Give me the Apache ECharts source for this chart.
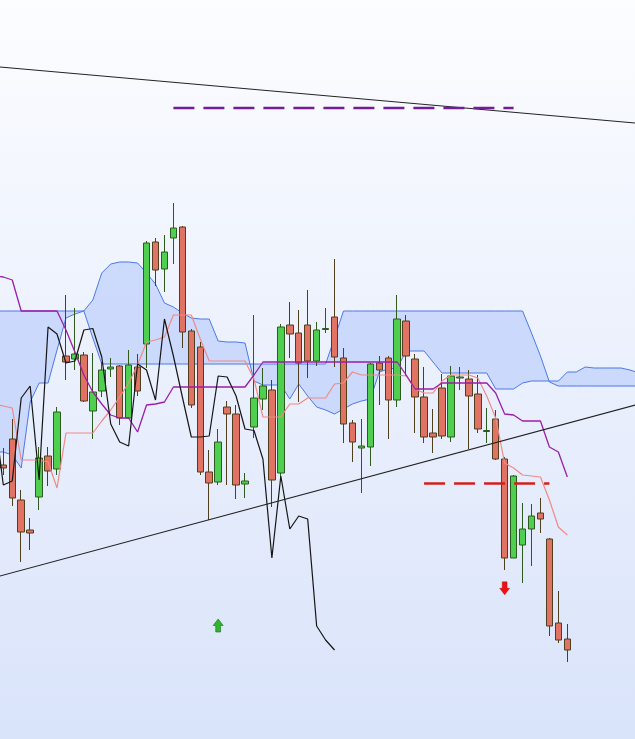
<!DOCTYPE html>
<html><head><meta charset="utf-8">
<script src="https://cdn.jsdelivr.net/npm/echarts@6/dist/echarts.min.js"></script>
<style>html,body{margin:0;padding:0;background:#fff;}#c{width:635px;height:739px;}</style>
</head><body><div id="c"></div>
<script>
// OHLC candles: [open, close, low, high], index 0..63
const candles = [
[103.5,103.2,102.5,105.2],[106.1,100.2,99.4,108.1],[100.0,96.8,93.8,101.0],[97.0,96.7,95.0,98.2],
[100.3,104.2,99.0,105.3],[104.4,102.9,101.4,105.3],[103.1,108.8,102.5,109.3],[114.4,113.8,112.0,120.5],
[114.1,114.6,113.0,119.2],[114.5,109.9,109.8,114.8],[108.9,110.8,106.1,114.7],[110.9,113.0,110.3,113.8],
[113.1,113.3,112.3,114.2],[113.4,108.2,107.5,113.5],[108.2,113.5,108.1,115.0],[113.3,110.9,110.4,114.6],
[115.6,125.7,113.2,125.9],[125.8,123.0,121.4,126.2],[123.1,124.8,120.8,126.5],[126.2,127.2,123.6,129.7],
[127.3,116.8,115.2,127.4],[116.9,109.5,109.2,117.1],[115.3,102.8,102.5,115.8],[102.8,101.7,98.0,105.0],
[101.8,105.8,101.5,107.1],[109.3,108.6,101.5,109.9],[108.6,101.5,100.1,109.5],[101.6,101.9,100.2,102.7],
[107.3,110.2,106.2,118.5],[110.1,111.4,109.0,113.2],[111.0,102.0,99.3,112.0],[102.7,117.3,102.3,117.6],
[117.5,116.6,114.2,119.8],[116.7,113.7,109.8,119.0],[117.5,113.9,112.2,121.0],[113.9,117.0,113.4,117.8],
[117.05,117.15,116.7,119.2],[118.3,114.3,113.3,124.1],[114.2,107.6,105.7,115.2],[107.7,105.8,103.8,108.0],
[105.2,105.4,100.7,108.1],[105.3,113.6,103.4,113.7],[113.7,113.0,109.5,114.4],[114.2,110.0,106.1,114.4],
[110.0,118.1,109.3,120.5],[117.9,114.4,112.4,118.5],[114.1,110.3,106.7,114.6],[110.3,106.3,105.7,113.3],
[106.7,106.3,104.7,109.1],[111.2,106.4,106.1,112.6],[106.3,112.4,105.8,113.4],[112.2,112.3,111.0,113.3],
[112.1,110.4,105.1,113.0],[110.6,107.1,106.7,112.5],[106.85,106.95,105.7,109.2],[108.1,104.1,104.0,109.0],
[104.1,94.2,93.0,104.3],[94.2,102.4,94.2,102.5],[95.5,97.1,91.7,99.7],[97.1,98.4,93.4,99.6],
[98.7,98.1,96.7,100.2],[96.1,87.4,86.4,96.2],[87.7,86.0,85.7,90.9],[86.1,85.0,83.8,87.6]
];

// Lagging span (chikou), starts at index -1
const chikouStart = -1;
const chikou = [108.6,101.5,101.9,110.2,111.4,102.0,117.3,116.6,113.7,113.9,117.0,117.15,114.3,107.6,105.8,105.4,
113.6,113.0,110.0,118.1,114.4,110.3,106.3,106.3,106.4,112.4,112.3,110.4,107.1,106.95,104.1,94.2,102.4,97.1,98.4,98.1,87.4,86.0,85.0];

// Conversion (tenkan) and base (kijun) lines, start at index -1
const lineStart = -1;
const tenkan = [109.6,109.4,109.2,104.0,104.0,104.0,103.8,101.2,106.7,106.7,106.7,106.7,107.9,109.0,110.3,111.7,113.5,
115.8,116.0,116.3,118.5,118.5,118.5,116.1,113.9,113.9,113.9,113.9,113.9,112.1,108.3,108.3,108.3,109.6,109.6,
110.2,110.2,110.2,111.6,111.7,112.8,112.5,112.5,112.5,112.5,112.5,112.4,111.1,110.7,110.7,111.9,112.5,112.5,112.5,
112.2,110.4,108.2,103.7,103.2,102.5,102.4,102.3,100.0,97.3,96.5];
const kijun = [122.4,122.3,122.0,118.9,118.9,118.9,118.9,118.9,117.0,114.8,112.5,110.8,109.6,108.5,108.2,108.2,106.8,
109.5,109.6,109.8,111.3,111.3,111.3,111.3,111.3,111.3,111.3,111.3,111.3,112.5,
113.8,113.8,113.8,113.8,113.8,113.8,113.8,113.8,113.8,113.8,113.8,113.8,113.8,113.8,113.8,113.8,
112.5,111.1,111.1,111.1,111.7,111.7,111.7,111.7,111.7,111.7,110.7,108.6,108.5,107.9,107.9,107.9,105.3,104.8,102.3];

// Leading spans (cloud), start at index -1, run to index 71
const cloudStart = -1;
const spanA = [104.8,104.8,104.5,103.2,109.8,111.7,111.7,115.0,118.2,118.6,118.9,120.0,122.7,123.6,123.8,123.8,123.7,
122.7,121.6,119.7,119.3,118.7,118.2,118.1,118.1,115.9,115.8,115.8,115.7,111.9,111.5,111.5,111.5,110.1,111.6,110.4,
109.3,109.0,108.6,109.1,109.6,109.9,110.1,112.8,113.1,113.2,114.9,114.9,114.9,113.8,112.7,112.7,112.7,112.7,112.7,
112.7,111.1,111.1,111.1,111.7,111.9,111.9,111.9,111.9,112.8,112.8,113.3,113.2,113.2,113.2,113.2,113.0,112.7];
const spanB = [118.9,118.9,118.9,118.9,118.9,118.9,118.9,118.9,118.9,118.9,118.9,116.2,
113.6,113.6,113.6,113.6,113.6,113.6,113.6,113.6,113.6,113.6,113.6,113.6,113.6,113.6,113.6,113.6,113.6,113.6,113.6,
113.6,113.6,113.6,113.6,113.6,113.6,113.6,116.2,
118.9,118.9,118.9,118.9,118.9,118.9,118.9,118.9,118.9,118.9,118.9,118.9,118.9,118.9,118.9,118.9,118.9,118.9,118.9,118.9,118.9,
116.7,114.4,111.8,111.4,111.4,111.4,111.4,111.4,111.4,111.4,111.4,111.4,111.4];

// Trend lines and levels: [index, price]
const upperTrend = [[-1, 143.35], [71, 137.66]];
const lowerTrend = [[-1, 92.25], [71, 109.59]];
const targetLevel = [[19, 139.2], [57, 139.2]];
const stopLevel = [[47, 101.65], [61, 101.65]];
const buySignals = [[24, 87.45]];
const sellSignals = [[56, 91.17]];

const X_MIN = -0.3686, X_MAX = 70.56, Y_MIN = 76.1, Y_MAX = 150;

const pairs = (arr, start) => arr.map((v, i) => [start + i, v]);
const candleData = candles.map((c, i) => [i, c[0], c[1], c[2], c[3]]);

const chart = echarts.init(document.getElementById('c'), null, {renderer: 'canvas'});
const lineBase = {type: 'line', symbol: 'none', silent: true, animation: false, clip: true};

chart.setOption({
  animation: false,
  backgroundColor: new echarts.graphic.LinearGradient(0, 0, 0, 1, [
    {offset: 0, color: '#fcfdff'}, {offset: 1, color: '#d9e3fa'}
  ]),
  grid: {left: 0, right: 0, top: 0, bottom: 0},
  xAxis: {type: 'value', min: X_MIN, max: X_MAX, show: false, splitLine: {show: false}},
  yAxis: {type: 'value', min: Y_MIN, max: Y_MAX, show: false, splitLine: {show: false}, scale: true},
  series: [
    {
      type: 'custom', silent: true, z: 1, clip: true,
      data: [[0, 100]],
      renderItem: function (params, api) {
        const pts = [];
        spanA.forEach((v, i) => pts.push(api.coord([cloudStart + i, v])));
        for (let i = spanB.length - 1; i >= 0; i--) pts.push(api.coord([cloudStart + i, spanB[i]]));
        return {type: 'polygon', shape: {points: pts}, style: {fill: '#c6d5fb', opacity: 0.85}};
      }
    },
    Object.assign({}, lineBase, {z: 2, data: pairs(spanA, cloudStart), lineStyle: {color: '#4d79e3', width: 1}}),
    Object.assign({}, lineBase, {z: 2, data: pairs(spanB, cloudStart), lineStyle: {color: '#4d79e3', width: 1}}),
    {
      type: 'candlestick', z: 3, silent: true, barWidth: 7,
      data: candleData,
      itemStyle: {color: '#4fcf4f', color0: '#e07363', borderColor: '#2f5a1d', borderColor0: '#4f3f1d', borderWidth: 1}
    },
    Object.assign({}, lineBase, {z: 4, data: pairs(tenkan, lineStart), lineStyle: {color: '#f08a86', width: 1.2}}),
    Object.assign({}, lineBase, {z: 4, data: pairs(kijun, lineStart), lineStyle: {color: '#9a1fa6', width: 1.3}}),
    Object.assign({}, lineBase, {z: 4, data: pairs(chikou, chikouStart), lineStyle: {color: '#151515', width: 1.2}}),
    Object.assign({}, lineBase, {z: 5, data: upperTrend, lineStyle: {color: '#222', width: 1.1}}),
    Object.assign({}, lineBase, {z: 5, data: lowerTrend, lineStyle: {color: '#222', width: 1.1}}),
    Object.assign({}, lineBase, {z: 5, data: targetLevel, lineStyle: {color: '#761c95', width: 2.6, type: [21, 9]}}),
    Object.assign({}, lineBase, {z: 5, data: stopLevel, lineStyle: {color: '#d11f1f', width: 2.6, type: [21, 9]}}),
    {
      type: 'scatter', z: 6, silent: true, data: buySignals,
      symbol: 'path://M5,0L10,6.5L7.4,6.5L7.4,13L2.6,13L2.6,6.5L0,6.5Z', symbolSize: [10, 13],
      itemStyle: {color: '#2fb52f', borderColor: '#1d6b1d', borderWidth: 0.6, opacity: 1}
    },
    {
      type: 'scatter', z: 6, silent: true, data: sellSignals,
      symbol: 'path://M2.6,0L7.4,0L7.4,6.5L10,6.5L5,13L0,6.5L2.6,6.5Z', symbolSize: [10, 13],
      itemStyle: {color: '#ee1010', borderColor: '#b00000', borderWidth: 0.4, opacity: 1}
    }
  ]
});
</script>
</body></html>
